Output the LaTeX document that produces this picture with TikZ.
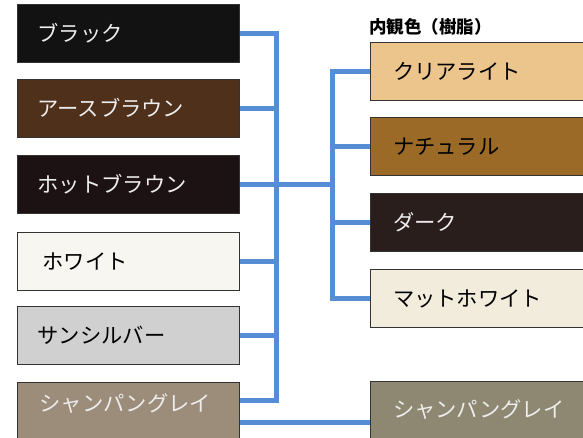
\documentclass[tikz,border=0pt]{standalone}
\usepackage{fontspec}
\setmainfont{Noto Sans CJK JP}
\usepackage{tikz}

\definecolor{linkblue}{HTML}{558ED5}
\definecolor{cBlack}{HTML}{121212}
\definecolor{cEarth}{HTML}{4E301B}
\definecolor{cHot}{HTML}{1C1213}
\definecolor{cWhite}{HTML}{F8F6F1}
\definecolor{cSilver}{HTML}{D0D0D0}
\definecolor{cChampL}{HTML}{9C8D7B}
\definecolor{cClear}{HTML}{ECC58D}
\definecolor{cNatural}{HTML}{9B6A27}
\definecolor{cDark}{HTML}{2A1E1D}
\definecolor{cMatt}{HTML}{F2ECDD}
\definecolor{cChampR}{HTML}{8E8873}

\begin{document}
\begin{tikzpicture}[x=1pt,y=-1pt,
    colorbox/.style={draw=black!80, line width=0.8pt, minimum height=58pt,
        inner xsep=20pt, text width=182pt, align=left,
        font=\fontsize{21.3}{24}\selectfont},
    rightbox/.style={colorbox, inner xsep=23pt, text width=200pt},
    link/.style={draw=linkblue, line width=5pt}]
    \fill[white] (0,0) rectangle (583,437);
    \useasboundingbox (0,0) rectangle (583,437);
    \clip (0,0) rectangle (583,437);
            \node[colorbox, fill=cBlack, text=white!93!black] (black) at (128.5,33) {ブラック};
            \node[colorbox, fill=cEarth, text=white!93!black] (earth) at (128.5,108) {アースブラウン};
            \node[colorbox, fill=cHot, text=white!93!black] (hot) at (128.5,184) {ホットブラウン};
            \node[colorbox, fill=cWhite, inner xsep=25pt, text width=172pt, yshift=-2pt] (white) at (128.5,259.5) {ホワイト};
            \node[colorbox, fill=cSilver] (silver) at (128.5,335.5) {サンシルバー};
            \node[colorbox, fill=cChampL, text=white!93!black, text height=10pt, text depth=10pt,
                inner xsep=22pt, text width=178pt] (champL) at (128.5,411) {シャンパングレイ};
            \node[font=\bfseries\fontsize{17.5}{20}\selectfont, anchor=west, inner sep=0pt] (title) at (369,26.5) {内観色（樹脂）};
            \node[rightbox, fill=cClear] (clear) at (493,71.5) {クリアライト};
            \node[rightbox, fill=cNatural] (natural) at (493,146.5) {ナチュラル};
            \node[rightbox, fill=cDark, text=white!93!black] (dark) at (493,222.5) {ダーク};
            \node[rightbox, fill=cMatt] (matt) at (493,298.5) {マットホワイト};
            \node[rightbox, fill=cChampR, text=white!93!black] (champR) at (493,410) {シャンパングレイ};
            \coordinate (ltop) at (276,33);
            \coordinate (lbot) at (276,400);
            \coordinate (rtop) at (332,71.5);
            \coordinate (rbot) at (332,298.5);
            \draw[link] (black.east) -- (ltop) -- (lbot) -- (champL.east |- lbot);
            \draw[link] (earth.east) -- (earth.east -| ltop);
            \draw[link] (hot.east) -- (hot.east -| rtop);
            \draw[link] (white.east) -- (white.east -| ltop);
            \draw[link] (silver.east) -- (silver.east -| ltop);
            \draw[link] (clear.west) -- (rtop) -- (rbot) -- (matt.west);
            \draw[link] (natural.west) -- (natural.west -| rtop);
            \draw[link] (dark.west) -- (dark.west -| rtop);
            \draw[link] ([yshift=-11.5pt]champL.east) -- ([yshift=-11.5pt]champL.east -| champR.west);
        \end{tikzpicture}
\end{document}
